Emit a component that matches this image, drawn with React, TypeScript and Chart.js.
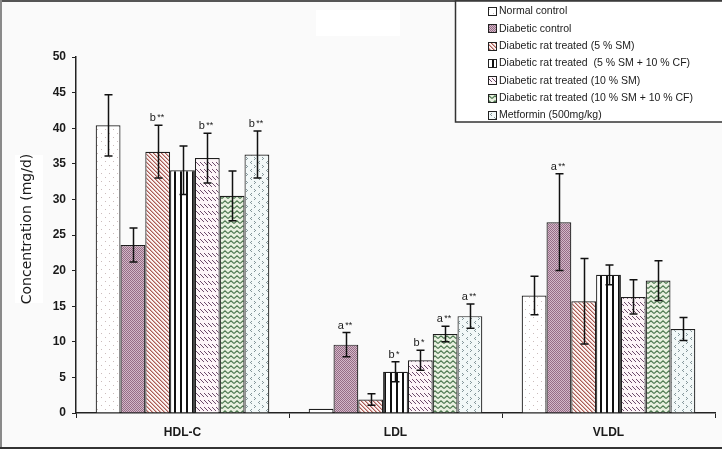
import React, { useEffect, useRef } from 'react';
import { Chart, registerables } from 'chart.js';

Chart.register(...registerables);

const categories = ['HDL-C', 'LDL', 'VLDL'];
const seriesLabels = [
  'Normal control',
  'Diabetic control',
  'Diabetic rat treated (5 % SM)',
  'Diabetic rat treated  (5 % SM + 10 % CF)',
  'Diabetic rat treated (10 % SM)',
  'Diabetic rat treated (10 % SM + 10 % CF)',
  'Metformin (500mg/kg)',
];
const yTicks = [0, 5, 10, 15, 20, 25, 30, 35, 40, 45, 50];

const normalControl = [40.4, 0.6, 16.5];
const diabeticControl = [23.6, 9.6, 26.8];
const sm5 = [36.7, 1.9, 15.7];
const sm5cf10 = [34.1, 5.8, 19.4];
const sm10 = [35.8, 7.4, 16.3];
const sm10cf10 = [30.5, 11.1, 18.6];
const metformin = [36.3, 13.6, 11.8];

const normalErr = [4.3, 0, 2.7];
const diabeticErr = [2.4, 1.7, 6.8];
const sm5Err = [3.7, 0.8, 6.0];
const sm5cf10Err = [3.4, 1.4, 1.4];
const sm10Err = [3.5, 1.4, 2.4];
const sm10cf10Err = [3.5, 1.1, 2.8];
const metforminErr = [3.3, 1.7, 1.6];

const normalSig = ['', '', ''];
const diabeticSig = ['', 'a', 'a'];
const sm5Sig = ['b', '', ''];
const sm5cf10Sig = ['', 'b', ''];
const sm10Sig = ['b', 'b', ''];
const sm10cf10Sig = ['', 'a', ''];
const metforminSig = ['b', 'a', ''];

const normalStars = ['', '', ''];
const diabeticStars = ['', '**', '**'];
const sm5Stars = ['**', '', ''];
const sm5cf10Stars = ['', '*', ''];
const sm10Stars = ['**', '*', ''];
const sm10cf10Stars = ['', '**', ''];
const metforminStars = ['**', '**', ''];

const seriesValues = [normalControl, diabeticControl, sm5, sm5cf10, sm10, sm10cf10, metformin];
const seriesErrors = [normalErr, diabeticErr, sm5Err, sm5cf10Err, sm10Err, sm10cf10Err, metforminErr];
const seriesSig = [normalSig, diabeticSig, sm5Sig, sm5cf10Sig, sm10Sig, sm10cf10Sig, metforminSig];
const seriesStars = [normalStars, diabeticStars, sm5Stars, sm5cf10Stars, sm10Stars, sm10cf10Stars, metforminStars];

function tile(w: number, h: number, bg: string, draw: (c: CanvasRenderingContext2D) => void): CanvasPattern {
  const cv = document.createElement('canvas');
  cv.width = w;
  cv.height = h;
  const c = cv.getContext('2d') as CanvasRenderingContext2D;
  c.fillStyle = bg;
  c.fillRect(0, 0, w, h);
  draw(c);
  const ctx = document.createElement('canvas').getContext('2d') as CanvasRenderingContext2D;
  return ctx.createPattern(cv, 'repeat') as CanvasPattern;
}

function makePatterns(): CanvasPattern[] {
  const dots = tile(8, 8, '#ffffff', (c) => {
    c.fillStyle = '#cbbcbc';
    c.fillRect(1, 1, 1, 1);
    c.fillRect(5, 5, 1, 1);
  });
  const checker = tile(2, 2, '#d2b9c8', (c) => {
    c.fillStyle = '#966c86';
    c.fillRect(0, 0, 1, 1);
    c.fillRect(1, 1, 1, 1);
  });
  const diag = tile(4, 4, '#fbf3f2', (c) => {
    c.fillStyle = '#a85c56';
    for (let i = 0; i < 4; i++) {
      c.fillRect(i, i, 1, 1);
    }
    c.fillStyle = '#d9aaa6';
    for (let i = 0; i < 4; i++) {
      c.fillRect((i + 1) % 4, i, 1, 1);
    }
  });
  const vstripes = tile(6, 1, '#ffffff', (c) => {
    c.fillStyle = '#111111';
    c.fillRect(0, 0, 2, 1);
  });
  const dashdiag = tile(4, 7, '#fdf5f8', (c) => {
    c.fillStyle = '#6c4a6a';
    for (let i = 0; i < 4; i++) c.fillRect(i, i + 1, 1, 1);
  });
  const zigzag = tile(6, 5, '#e8f0e0', (c) => {
    c.strokeStyle = '#4f7a52';
    c.lineWidth = 1.1;
    c.beginPath();
    c.moveTo(0, 3.5);
    c.lineTo(3, 0.8);
    c.lineTo(6, 3.5);
    c.stroke();
  });
  const chevrons = tile(8, 8, '#f2f8f8', (c) => {
    c.fillStyle = '#84969a';
    c.fillRect(3, 1, 1, 1);
    c.fillRect(2, 2, 1, 1);
    c.fillRect(3, 3, 1, 1);
    c.fillRect(6, 5, 1, 1);
    c.fillRect(7, 6, 1, 1);
    c.fillRect(6, 7, 1, 1);
  });
  return [dots, checker, diag, vstripes, dashdiag, zigzag, chevrons];
}

const decorPlugin = {
  id: 'decor',
  beforeDraw(chart: any) {
    const ctx = chart.ctx as CanvasRenderingContext2D;
    const W = chart.width;
    const H = chart.height;
    ctx.save();
    ctx.fillStyle = '#fafafa';
    ctx.fillRect(0, 0, W, H);
    ctx.fillStyle = '#ffffff';
    ctx.fillRect(316, 10, 84, 26);
    ctx.fillRect(15, 155, 28, 148);
    ctx.fillStyle = '#555555';
    ctx.fillRect(0, 0, W, 2);
    ctx.fillStyle = '#8a8a8a';
    ctx.fillRect(0, 0, 2, H);
    ctx.fillStyle = '#333333';
    ctx.fillRect(0, H - 2, W, 2);
    ctx.translate(27, 229);
    ctx.rotate(-Math.PI / 2);
    ctx.fillStyle = '#1a1a1a';
    ctx.font = '14px "DejaVu Sans", Verdana, sans-serif';
    ctx.textAlign = 'center';
    ctx.textBaseline = 'middle';
    ctx.fillText('Concentration (mg/d)', 0, 0);
    ctx.restore();
  },
  afterDatasetsDraw(chart: any) {
    const ctx = chart.ctx as CanvasRenderingContext2D;
    const y = chart.scales.y;
    ctx.save();
    chart.data.datasets.forEach((ds: any, di: number) => {
      const meta = chart.getDatasetMeta(di);
      meta.data.forEach((bar: any, i: number) => {
        const v = ds.data[i] as number;
        const e = seriesErrors[di][i];
        const x = Math.round(bar.x) + 0.5;
        let topY = y.getPixelForValue(v);
        if (e > 0) {
          const yt = y.getPixelForValue(v + e);
          const yb = y.getPixelForValue(v - e);
          topY = yt;
          ctx.strokeStyle = '#111111';
          ctx.lineWidth = 1.5;
          ctx.beginPath();
          ctx.moveTo(x, yt);
          ctx.lineTo(x, yb);
          ctx.moveTo(x - 4, yt);
          ctx.lineTo(x + 4, yt);
          ctx.moveTo(x - 4, yb);
          ctx.lineTo(x + 4, yb);
          ctx.stroke();
        }
        const letter = seriesSig[di][i];
        if (letter) {
          const stars = seriesStars[di][i];
          ctx.font = '11px "Liberation Sans", Arial, sans-serif';
          const lw = ctx.measureText(letter).width;
          ctx.font = '9px "Liberation Sans", Arial, sans-serif';
          const sw = ctx.measureText(stars).width;
          const total = lw + 1.5 + sw;
          const sx = x - 1.5 - total / 2;
          const base = topY - 4;
          ctx.fillStyle = '#1a1a1a';
          ctx.textBaseline = 'alphabetic';
          ctx.textAlign = 'left';
          ctx.font = '11px "Liberation Sans", Arial, sans-serif';
          ctx.fillText(letter, sx, base);
          ctx.font = '9px "Liberation Sans", Arial, sans-serif';
          ctx.fillText(stars, sx + lw + 1.5, base - 1);
        }
      });
    });
    ctx.restore();
  },
  afterDraw(chart: any) {
    const ctx = chart.ctx as CanvasRenderingContext2D;
    ctx.save();
    ctx.fillStyle = '#ffffff';
    ctx.fillRect(455, 1, 280, 121);
    ctx.strokeStyle = '#333333';
    ctx.lineWidth = 1.5;
    ctx.strokeRect(455.5, 1, 280, 121);
    ctx.font = '10.5px "Liberation Sans", Arial, sans-serif';
    ctx.textBaseline = 'middle';
    ctx.textAlign = 'left';
    chart.data.datasets.forEach((ds: any, di: number) => {
      const cy = 11 + di * 17.3;
      const bx = 488;
      const by = Math.round(cy - 4);
      ctx.fillStyle = ds.backgroundColor;
      ctx.fillRect(bx, by, 8, 8);
      ctx.strokeStyle = '#222222';
      ctx.lineWidth = 1;
      ctx.strokeRect(bx + 0.5, by + 0.5, 8, 8);
      ctx.fillStyle = '#1a1a1a';
      ctx.fillText(ds.label, 499, cy + 0.5);
    });
    ctx.restore();
  },
};

export default function App() {
  const ref = useRef<HTMLCanvasElement | null>(null);

  useEffect(() => {
    document.body.style.margin = '0';
    document.body.style.overflow = 'hidden';
    const canvas = ref.current;
    if (!canvas) return;
    const patterns = makePatterns();
    const chart = new Chart(canvas, {
      type: 'bar',
      data: {
        labels: categories,
        datasets: seriesValues.map((vals, i) => ({
          label: seriesLabels[i],
          data: vals,
          backgroundColor: patterns[i] as any,
          borderColor: '#1e1e1e',
          borderWidth: 1.2,
          categoryPercentage: 0.815,
          barPercentage: 1.0,
        })),
      },
      options: {
        animation: false,
        responsive: true,
        maintainAspectRatio: false,
        devicePixelRatio: 1,
        layout: { padding: { top: 57, right: 7, bottom: 0, left: 0 } },
        plugins: {
          legend: { display: false },
          tooltip: { enabled: false },
          title: { display: false },
        },
        scales: {
          x: {
            grid: {
              display: true,
              drawOnChartArea: false,
              drawTicks: true,
              tickLength: 5,
              color: '#222222',
              offset: true,
            },
            border: { display: true, color: '#222222', width: 1.5 },
            ticks: {
              color: '#1a1a1a',
              font: { family: '"Liberation Sans", Arial, sans-serif', size: 12, weight: 'bold' },
              padding: 7,
            },
            afterFit: (s: any) => {
              s.height = 36;
            },
          },
          y: {
            min: 0,
            max: 50,
            afterBuildTicks: (s: any) => {
              s.ticks = yTicks.map((v) => ({ value: v }));
            },
            grid: {
              display: true,
              drawOnChartArea: false,
              drawTicks: true,
              tickLength: 4,
              color: '#222222',
            },
            border: { display: true, color: '#222222', width: 1.5 },
            ticks: {
              color: '#1a1a1a',
              font: { family: '"Liberation Sans", Arial, sans-serif', size: 12, weight: 'bold' },
              padding: 6,
            },
            afterFit: (s: any) => {
              s.width = 76;
            },
          },
        },
      },
      plugins: [decorPlugin],
    });
    return () => chart.destroy();
  }, []);

  return (
    <div style={{ position: 'relative', width: '722px', height: '449px' }}>
      <canvas ref={ref} />
    </div>
  );
}
